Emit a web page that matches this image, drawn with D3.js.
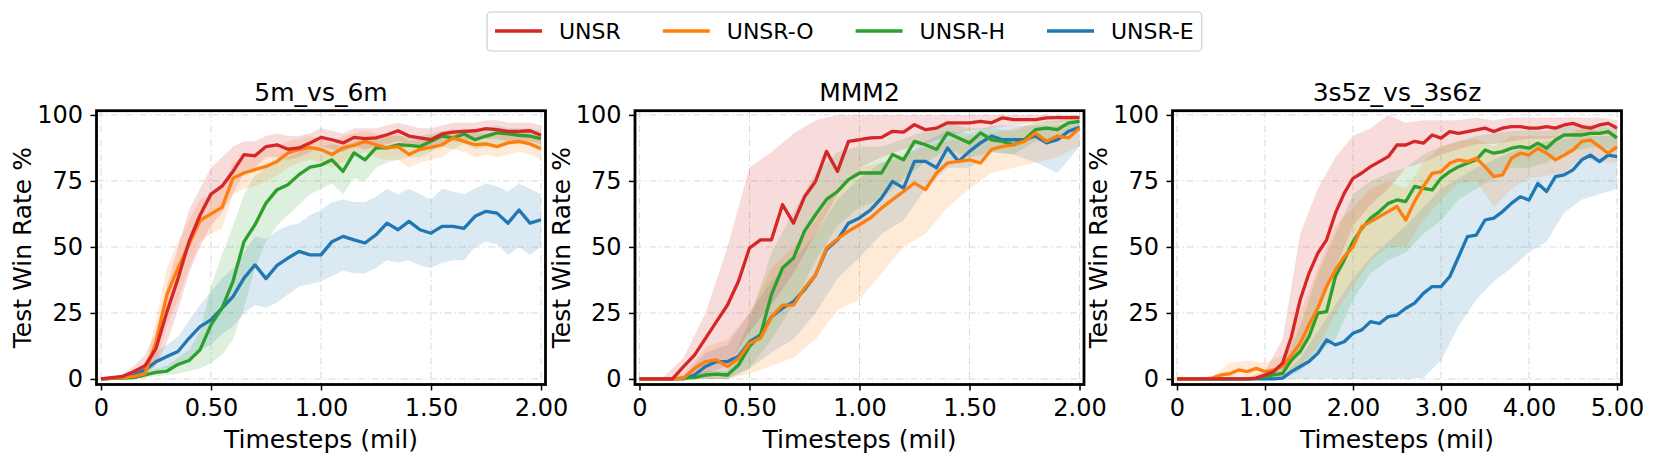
<!DOCTYPE html>
<html>
<head>
<meta charset="utf-8">
<script src="https://cdn.jsdelivr.net/npm/d3@7"></script>
<style>
  html, body { margin: 0; padding: 0; background: #fff; }
  svg { display: block; font-family: "DejaVu Sans", sans-serif; }
</style>
</head>
<body>
<svg id="chart" width="1660" height="465"></svg>
<script>
// ---------------- DATA ----------------
const seriesNames = ["UNSR", "UNSR-O", "UNSR-H", "UNSR-E"];
const seriesColors = ["#d62728", "#ff7f0e", "#2ca02c", "#1f77b4"];
const panelTitles = ["5m_vs_6m", "MMM2", "3s5z_vs_3s6z"];
const panelXMax = [2, 2, 5];
const xTicks12 = [0, 0.5, 1, 1.5, 2];
const xTickLabels12 = ["0", "0.50", "1.00", "1.50", "2.00"];
const xTicks3 = [0, 1, 2, 3, 4, 5];
const xTickLabels3 = ["0", "1.00", "2.00", "3.00", "4.00", "5.00"];
const yTicks = [0, 25, 50, 75, 100];
const yTickLabels = ["0", "25", "50", "75", "100"];

// x grids (million timesteps)
const p1_x = d3.range(41).map(i => +(i * 0.05).toFixed(3));
const p1_bx = d3.range(41).map(i => +(i * 0.05).toFixed(3));
const p2_x = d3.range(41).map(i => +(i * 0.05).toFixed(3));
const p2_bx = d3.range(21).map(i => +(i * 0.1).toFixed(3));
const p3_x = d3.range(51).map(i => +(i * 0.1).toFixed(3));
const p3_bx = d3.range(26).map(i => +(i * 0.2).toFixed(3));

// Panel 1: 5m_vs_6m
const p1_unsr   = [0,0.5,1,2.8,5,11.5,25.5,38,52,62,70,73,78.6,85,84.5,88,88.7,87,87.5,89.4,91.5,90.6,89.4,91.5,91,91.3,92.5,94,92,91.3,90.6,92.8,93.5,93.8,94,94.8,94.4,93.8,93.8,94,92.3];
const p1_unsr_o = [0,0.3,0.5,1,2,14,32,42,51,60,62.5,65,76,78,79.3,80.5,82.4,85.6,86.9,87.7,86.9,85,87.5,88.5,90,88.7,87.5,88,85,87,87.7,88.7,91.3,90,88.7,89,88,89.4,90,89,87.2];
const p1_unsr_h = [0,0.2,0.3,0.5,1.5,2.5,3,5.5,7,11,20.5,26.8,37,52,58.4,66.6,71.7,73.6,77.4,80.2,81,83,78.6,85.6,83,87.5,87.5,88.7,88.5,88,90,92,91.3,92.8,90.6,92,93.2,92.8,92.3,92,91];
const p1_unsr_e = [0,0.2,0.5,1.5,3.4,6.5,8.5,10.4,15.4,19.8,22.4,26.8,31.2,38.2,43.2,38,43,45.8,48.3,47,47,52,54,52.7,51.5,54.6,59,56.5,59.7,56.5,55.2,57.8,57.8,57,61.6,63.5,62.8,59,64,59,60.3];
const p1_unsr_lo   = [0,0,0,1,2,5,14,26,40,50,58,63,70,78,80,84,84,83,84,86,88,87,86,88,87,88,89,90,89,88,87,89,90,90,91,91,91,90,90,90,89];
const p1_unsr_hi   = [0,1,2,5,9,18,35,50,64,72,80,84,88,90,90,92,93,92,92,93,95,94,93,95,95,95,96,97,96,95,95,96,97,97,97,98,98,97,97,97,96];
const p1_unsr_o_lo = [0,0,0,0,0.5,6,20,30,42,52,55,57,70,72,73,75,77,80,82,83,82,80,82,84,86,84,83,83,80,82,83,84,87,86,84,85,84,85,86,85,83];
const p1_unsr_o_hi = [0,0.8,1.5,2.5,4.5,22,42,52,60,68,70,73,82,84,86,87,88,90,91,92,91,90,92,93,94,93,92,93,90,91,92,93,95,94,93,93,92,93,94,93,91];
const p1_unsr_h_lo = [0,0,0,0,0.5,1,1.5,2,3,4,6,9,15,27,42,52,58,62,66,70,72,74,70,76,75,80,82,83,84,84,86,88,87,89,87,88,89,89,89,89,88];
const p1_unsr_h_hi = [0,0.5,0.8,1.2,2.5,4,5,8,11,18,35,47,58,70,77,80,83,84,86,87,88,89,88,90,90,91,92,92,92,92,93,94,94,95,94,95,96,95,95,95,94];
const p1_unsr_e_lo = [0,0,0,0.5,1,3,4,5,8,11,13,17,20,25,28,27,29,32,35,36,37,39,41,40,40,42,45,44,45,43,42,44,45,45,50,52,51,47,50,47,50];
const p1_unsr_e_hi = [0,0.5,1,3,5,10,13,16,22,28,33,38,42,48,54,53,56,58,59,62,64,67,68,67,67,69,72,70,72,70,68,72,71,70,72,74,73,71,74,72,70];

// Panel 2: MMM2
const p2_unsr   = [0,0,0,0,4.7,9,15.4,21.7,28,37,49.6,52.7,52.7,66,59,69,74.8,86.2,78.6,90,90.6,91.3,91.5,93.8,93.5,96.3,94.4,95,97,97,97,97.6,97,98.9,98.2,98.2,98.2,98.9,99,99,99];
const p2_unsr_o = [0,0,0,0,0.3,4,6.6,7.2,4.7,7.8,13.5,15.4,23.6,28,28,34.4,39.4,49.6,53,56,58.4,61,64.7,67.9,71,74.2,71.7,78,81.8,82.4,83,81.8,86.9,88.1,88.7,90,93.2,90,92,91.3,95];
const p2_unsr_h = [0,0,0,0,0.3,0.5,1.5,1.8,1.5,5.3,12.3,16.7,32,42,45.8,56,62.2,68,71,75.5,78,78,78,85,83,90,88.7,86.9,93.2,91.3,89.4,93.2,90.6,90,88.7,90.6,94.4,95,94.4,97,97.6];
const p2_unsr_e = [0,0,0,0,0,1.5,4.7,6.6,6.6,8.5,14,16.7,23.6,26.8,29.3,33.8,39.4,49,52.7,59,61,64,68.5,74.8,72.3,82.4,82.4,80,87.5,82.4,86.2,89.4,92,90.6,90.6,90.6,92,89.4,90.6,93.8,95.3];
const p2_unsr_lo   = [0,0,0,2,5,18,28,40,55,70,80,84,87,89,92,94,95,96,97,97,98];
const p2_unsr_hi   = [0,0,8,25,50,80,86,93,98,100,100,100,100,100,100,100,100,100,100,100,100];
const p2_unsr_o_lo = [0,0,0,0,0,2,5,8,15,26,30,40,50,55,65,72,78,80,82,84,88];
const p2_unsr_o_hi = [0,0,2,12,15,25,42,50,60,72,80,82,85,88,90,92,93,95,97,97,98];
const p2_unsr_h_lo = [0,0,0,0,0,4,15,28,45,58,65,68,76,82,87,84,86,85,90,90,95];
const p2_unsr_h_hi = [0,0,1,3,3,22,48,63,78,86,88,88,91,94,97,95,95,94,97,98,99];
const p2_unsr_e_lo = [0,0,0,0,0,4,10,15,25,38,46,55,60,72,80,80,86,85,82,78,88];
const p2_unsr_e_hi = [0,0,1,10,13,25,37,45,55,68,76,82,84,90,94,93,96,96,96,96,98];

// Panel 3: 3s5z_vs_3s6z
const p3_unsr   = [0,0,0,0,0,0,0,0,0,0.3,1.5,2.8,6,16,30,40,47.6,52.7,62.8,70.3,76,78,80.4,82.3,84.2,88.6,88.6,90,89.3,92.4,91.2,93.7,93,93.7,94.3,95,93.7,95,95.6,95.6,95,95,95.6,95,96.2,96.8,95.6,95,96.2,96.8,95];
const p3_unsr_o = [0,0,0,0,0.3,1.5,2,3.4,2.8,4,2.8,3.4,4.7,9,13.5,20.5,26.8,35,41.3,46.3,50,57.7,59.6,61.5,63.4,65.3,60.2,67.2,72.9,77.9,78.5,81.7,83,82.3,83.6,80.4,76.6,77.3,83.6,85.5,84.8,87.4,85.5,83,84.8,86.7,90,90.5,88,85.5,88];
const p3_unsr_h = [0,0,0,0,0,0,0,0,0,0.2,0.9,1.5,2.1,7.2,10.4,16,24.9,25.5,38.8,45,52,57,60.9,63.4,66.5,67.8,67.2,72.9,72.2,71.6,76,78.5,80.4,81.7,83,86.7,85.5,86.1,87.4,88,87.4,89.3,87.4,90.5,92.4,92.4,92.4,93,93,93.7,91.2];
const p3_unsr_e = [0,0,0,0,0,0,0,0,0,0,0,0,0.3,2.8,4.7,6.6,9.7,14.8,12.9,14.1,17.3,18.6,21.7,21,23.6,24.2,26.8,28.7,32.4,35,35,38.8,46.3,53.9,54.5,60.2,60.9,63.4,66.5,69,67.8,74,71,76.6,77.3,79.2,83,84.8,82.3,84.8,84.2];
const p3_unsr_lo   = [0,0,0,0,0,0,1,10,25,42,58,66,72,80,82,85,87,89,89,90,91,91,92,92,93,92];
const p3_unsr_hi   = [0,0,0,0,0.5,3,15,55,72,84,92,95,100,97,98,98,98,99,98,99,99,99,99,99,99,98];
const p3_unsr_o_lo = [0,0,0,0,0,0,1,5,12,25,35,45,50,50,60,68,74,75,65,72,76,77,78,84,82,82];
const p3_unsr_o_hi = [0,0,1,6,7,6,9,25,42,58,65,72,75,72,82,88,90,91,88,92,92,92,92,95,94,93];
const p3_unsr_h_lo = [0,0,0,0,0,0,0,3,10,15,30,40,45,48,55,60,68,72,76,80,80,82,86,87,88,86];
const p3_unsr_h_hi = [0,0,0,0,0,2,5,20,40,55,70,75,78,80,85,88,90,92,93,94,94,94,96,96,96,95];
const p3_unsr_e_lo = [0,0,0,0,0,0,0,0,0,0,0,0,0,0,0.5,7,20,30,37,42,48,52,63,68,70,72];
const p3_unsr_e_hi = [0,0,0,0,0,0,1,8,18,28,38,46,52,58,65,72,76,80,83,86,88,90,91,92,92,92];

// ---------------- BUILD ----------------
const panels = [
  { title: panelTitles[0], xMax: panelXMax[0], ticks: xTicks12, tickLabels: xTickLabels12, x: p1_x, bx: p1_bx,
    mean: [p1_unsr, p1_unsr_o, p1_unsr_h, p1_unsr_e],
    lo: [p1_unsr_lo, p1_unsr_o_lo, p1_unsr_h_lo, p1_unsr_e_lo],
    hi: [p1_unsr_hi, p1_unsr_o_hi, p1_unsr_h_hi, p1_unsr_e_hi] },
  { title: panelTitles[1], xMax: panelXMax[1], ticks: xTicks12, tickLabels: xTickLabels12, x: p2_x, bx: p2_bx,
    mean: [p2_unsr, p2_unsr_o, p2_unsr_h, p2_unsr_e],
    lo: [p2_unsr_lo, p2_unsr_o_lo, p2_unsr_h_lo, p2_unsr_e_lo],
    hi: [p2_unsr_hi, p2_unsr_o_hi, p2_unsr_h_hi, p2_unsr_e_hi] },
  { title: panelTitles[2], xMax: panelXMax[2], ticks: xTicks3, tickLabels: xTickLabels3, x: p3_x, bx: p3_bx,
    mean: [p3_unsr, p3_unsr_o, p3_unsr_h, p3_unsr_e],
    lo: [p3_unsr_lo, p3_unsr_o_lo, p3_unsr_h_lo, p3_unsr_e_lo],
    hi: [p3_unsr_hi, p3_unsr_o_hi, p3_unsr_h_hi, p3_unsr_e_hi] }
];

const svg = d3.select("#chart");
const boxLefts = [96.5, 635, 1172.5];
const boxW = 449;
const boxTop = 110.7, boxBottom = 384.5;
const tickFont = 24, labelFont = 25;

panels.forEach((p, pi) => {
  const L = boxLefts[pi], R = L + boxW;
  const x = d3.scaleLinear().domain([-0.0102 * p.xMax, 1.0102 * p.xMax]).range([L, R]);
  const y = d3.scaleLinear().domain([-2.1, 101.6]).range([boxBottom, boxTop]);
  const g = svg.append("g");

  const clipId = "clip" + pi;
  svg.append("clipPath").attr("id", clipId).append("rect")
    .attr("x", L).attr("y", boxTop).attr("width", boxW).attr("height", boxBottom - boxTop);

  // grid
  const grid = g.append("g").attr("clip-path", `url(#${clipId})`);
  grid.selectAll("line.gx").data(p.ticks).enter().append("line")
    .attr("x1", d => x(d)).attr("x2", d => x(d)).attr("y1", boxTop).attr("y2", boxBottom)
    .attr("stroke", "#d9d9d9").attr("stroke-width", 1).attr("stroke-dasharray", "7,3,1.5,3");
  grid.selectAll("line.gy").data(yTicks).enter().append("line")
    .attr("x1", L).attr("x2", R).attr("y1", d => y(d)).attr("y2", d => y(d))
    .attr("stroke", "#d9d9d9").attr("stroke-width", 1).attr("stroke-dasharray", "7,3,1.5,3");

  const plot = g.append("g").attr("clip-path", `url(#${clipId})`);
  const order = [3, 2, 1, 0];
  // bands
  order.forEach(si => {
    const pts = p.bx.map((xv, i) => ({ x: xv, lo: p.lo[si][i], hi: p.hi[si][i] }));
    const area = d3.area().x(d => x(d.x)).y0(d => y(d.lo)).y1(d => y(d.hi));
    plot.append("path").datum(pts).attr("d", area)
      .attr("fill", seriesColors[si]).attr("fill-opacity", 0.16).attr("stroke", "none");
  });
  // lines
  order.forEach(si => {
    const pts = p.x.map((xv, i) => ({ x: xv, v: p.mean[si][i] }));
    const line = d3.line().x(d => x(d.x)).y(d => y(d.v));
    plot.append("path").datum(pts).attr("d", line)
      .attr("fill", "none").attr("stroke", seriesColors[si]).attr("stroke-width", 3.3)
      .attr("stroke-linejoin", "round").attr("stroke-linecap", "butt");
  });

  // axes
  const xAxis = d3.axisBottom(x).tickValues(p.ticks).tickFormat((d, i) => p.tickLabels[i]).tickSize(6).tickPadding(8);
  const gx = g.append("g").attr("transform", `translate(0,${boxBottom})`).call(xAxis);
  const yAxis = d3.axisLeft(y).tickValues(yTicks).tickFormat((d, i) => yTickLabels[i]).tickSize(6).tickPadding(7.5);
  const gy = g.append("g").attr("transform", `translate(${L},0)`).call(yAxis);
  [gx, gy].forEach(a => {
    a.select(".domain").remove();
    a.selectAll(".tick line").attr("stroke", "#000").attr("stroke-width", 1.5);
    a.selectAll(".tick text").attr("fill", "#000").style("font-size", tickFont + "px")
      .style("font-family", '"DejaVu Sans", sans-serif');
  });

  // spines
  g.append("rect").attr("x", L).attr("y", boxTop).attr("width", boxW).attr("height", boxBottom - boxTop)
    .attr("fill", "none").attr("stroke", "#000").attr("stroke-width", 2.8);

  // title & labels
  g.append("text").attr("x", (L + R) / 2).attr("y", 92).attr("text-anchor", "middle")
    .attr("dominant-baseline", "central").style("font-size", labelFont + "px").text(p.title);
  g.append("text").attr("x", (L + R) / 2).attr("y", 439).attr("text-anchor", "middle")
    .attr("dominant-baseline", "central").style("font-size", labelFont + "px").text("Timesteps (mil)");
  g.append("text").attr("transform", `translate(${L - 74},${(boxTop + boxBottom) / 2}) rotate(-90)`)
    .attr("text-anchor", "middle").attr("dominant-baseline", "central")
    .style("font-size", labelFont + "px").text("Test Win Rate %");
});

// legend
const leg = svg.append("g");
const legRect = leg.append("rect").attr("x", 487).attr("y", 12).attr("height", 39).attr("rx", 4)
  .attr("fill", "#fff").attr("stroke", "#cccccc").attr("stroke-width", 1.2);
let cx = 495;
seriesNames.forEach((name, i) => {
  leg.append("line").attr("x1", cx).attr("x2", cx + 47).attr("y1", 31).attr("y2", 31)
    .attr("stroke", seriesColors[i]).attr("stroke-width", 3.3);
  const t = leg.append("text").attr("x", cx + 64).attr("y", 31.5).attr("dominant-baseline", "central")
    .style("font-size", "22px").text(name);
  const w = t.node().getComputedTextLength();
  if (i < seriesNames.length - 1) cx = cx + 64 + w + 42;
  else legRect.attr("width", cx + 64 + w + 8 - 487);
});
</script>
</body>
</html>
